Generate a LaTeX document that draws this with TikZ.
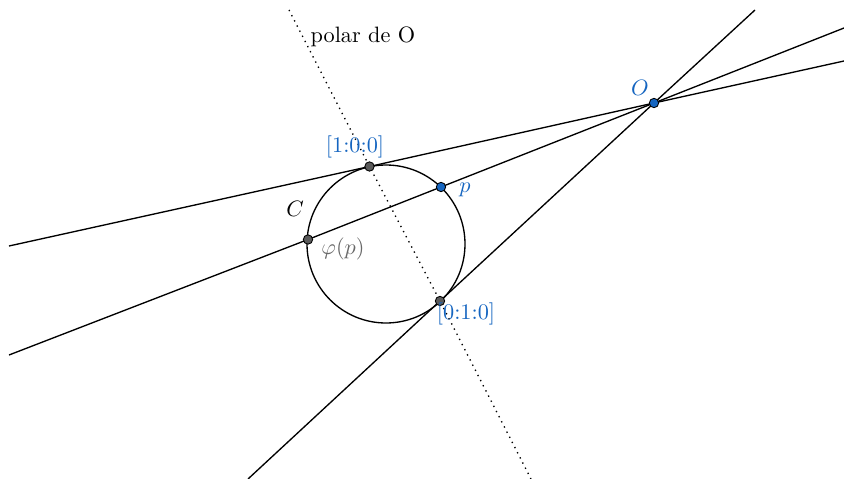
\documentclass[tikz,border=0pt]{standalone}
\usepackage{amsmath}
\usepackage{xcolor}
\usetikzlibrary{positioning}
\definecolor{ptblue}{RGB}{21,101,192}
\definecolor{ptgray}{RGB}{90,90,90}
\definecolor{labgray}{RGB}{105,105,105}
\tikzset{
  curve/.style={line width=0.6pt, draw=black},
  polar/.style={line width=0.6pt, dotted, draw=black},
  dot/.style={circle, draw=black, line width=0.4pt, inner sep=0pt, minimum size=4.2pt},
  bluedot/.style={dot, fill=ptblue},
  graydot/.style={dot, fill=ptgray},
  bluelab/.style={text=ptblue, inner sep=1pt},
  graylab/.style={text=labgray, inner sep=1pt}
}
\begin{document}
\begin{tikzpicture}[x=0.0158cm, y=-0.0158cm]
  \useasboundingbox (0,0) rectangle (844,479);

  % conic C
  \coordinate (ctr) at (386,244);
  \draw[curve] (ctr) circle (79);

  % points
  \coordinate (O) at (654,103);
  \coordinate (T1) at (369.5,166.5);
  \coordinate (T2) at (440,301);
  \coordinate (p) at (441,187);
  \coordinate (phip) at (308,239.5);

  % free ends of the lines
  \coordinate (a1) at (9,246);
  \coordinate (a2) at (844,61);
  \coordinate (b1) at (9,355);
  \coordinate (b2) at (844,28);
  \coordinate (c1) at (248,479);
  \coordinate (c2) at (755,10);
  \coordinate (d1) at (289,10);
  \coordinate (d2) at (531,479);

  \draw[curve] (a1) -- (T1) -- (O) -- (a2);
  \draw[curve] (b1) -- (phip) -- (p) -- (O) -- (b2);
  \draw[curve] (c1) -- (T2) -- (O) -- (c2);
  \draw[polar] (d1) -- (T1) -- (T2) -- (d2);

  \node[bluedot] (Odot) at (O) {};
  \node[graydot] (T1dot) at (T1) {};
  \node[graydot] (T2dot) at (T2) {};
  \node[bluedot] (pdot) at (p) {};
  \node[graydot] (phidot) at (phip) {};

  % labels
  \node[bluelab] (Olab) at (640,88) {$O$};
  \node[bluelab] (plab) at (465,190) {$p$};
  \node[bluelab] (T1lab) at (355,147) {[1:0:0]};
  \node[bluelab] (T2lab) at (466,314) {[0:1:0]};
  \node[graylab] (philab) at (343,249) {$\varphi(p)$};
  \node[inner sep=1pt] (Clab) at (295,209) {$C$};
  \node[anchor=west, inner sep=1pt] (pollab) at (308,37) {polar de O};
\end{tikzpicture}
\end{document}
